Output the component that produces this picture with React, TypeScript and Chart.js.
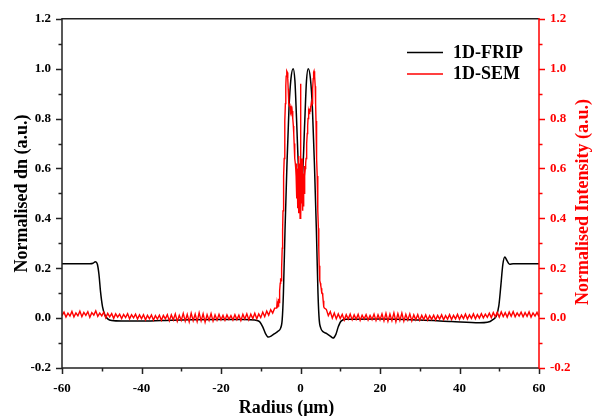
import React, { useEffect, useRef } from "react";
import { Chart, registerables } from "chart.js";
Chart.register(...registerables);

// ---- Data ----
const seriesLabels = ["1D-FRIP", "1D-SEM"];
const seriesColors = ["#000000", "#ff0000"];

const xMin = -60, xMax = 60, xStep = 20;
const yMin = -0.2, yMax = 1.2, yStep = 0.2;

const xTitle = "Radius (\u03bcm)";
const yLeftTitle = "Normalised dn (a.u.)";
const yRightTitle = "Normalised Intensity (a.u.)";

// 1D-FRIP (black), smooth profile
const fripX = [-60, -56, -53, -52.2, -51.6, -51.1, -50.7, -50.3, -49.8, -49.2, -48.5, -47.5, -45, -40, -35, -28, -20, -14, -11.5, -10.3, -9.5, -8.8, -8.1, -7.4, -6.5, -5.6, -5.0, -4.6, -4.3, -3.9, -3.4, -2.9, -2.4, -1.85, -1.4, -1.0, -0.5, 0.05, 0.6, 1.1, 1.5, 1.95, 2.5, 3.0, 3.5, 4.0, 4.4, 4.7, 5.1, 5.7, 6.6, 7.5, 8.2, 8.9, 9.5, 10.2, 11.5, 20, 30, 38, 45, 47, 48.4, 49.3, 49.9, 50.4, 50.9, 51.4, 51.9, 52.6, 53.5, 60];
const fripY = [0.218, 0.218, 0.218, 0.220, 0.226, 0.216, 0.175, 0.105, 0.045, 0.012, -0.003, -0.010, -0.012, -0.012, -0.010, -0.007, -0.006, -0.006, -0.008, -0.014, -0.035, -0.062, -0.076, -0.072, -0.062, -0.052, -0.040, -0.005, 0.10, 0.35, 0.62, 0.84, 0.96, 1.0, 0.95, 0.80, 0.60, 0.52, 0.60, 0.80, 0.95, 1.0, 0.96, 0.84, 0.62, 0.35, 0.10, -0.005, -0.040, -0.055, -0.062, -0.072, -0.080, -0.065, -0.035, -0.012, -0.005, -0.004, -0.008, -0.014, -0.019, -0.017, -0.006, 0.010, 0.05, 0.13, 0.215, 0.245, 0.232, 0.216, 0.218, 0.218];

// 1D-SEM (red), sampled: left part -60 .. -6.5 (step 0.5)
const semLeftStart = -60;
const semOuterStep = 0.5;
const semLeft = [
  0.010, 0.024, 0.004, 0.020, 0.008, 0.027, 0.005, 0.021, 0.009, 0.028, // -60
  0.006, 0.023, 0.011, 0.026, 0.003, 0.022, 0.012, 0.029, 0.007, 0.020, // -55
  0.009, 0.024, 0.001, 0.019, 0.005, 0.018, -0.001, 0.017, 0.004, 0.016, // -50
  -0.002, 0.015, 0.002, 0.018, -0.003, 0.014, 0.001, 0.016, -0.004, 0.013, // -45
  -0.002, 0.014, -0.007, 0.011, -0.003, 0.013, -0.008, 0.010, -0.004, 0.012, // -40
  -0.009, 0.011, -0.003, 0.014, -0.011, 0.013, -0.007, 0.017, -0.013, 0.011, // -35
  -0.009, 0.019, -0.012, 0.015, -0.015, 0.020, -0.010, 0.016, -0.014, 0.021, // -30
  -0.011, 0.017, -0.016, 0.014, -0.009, 0.018, -0.012, 0.013, -0.008, 0.015, // -25
  -0.007, 0.011, -0.009, 0.013, -0.005, 0.010, -0.008, 0.014, -0.006, 0.012, // -20
  -0.010, 0.015, -0.004, 0.017, -0.007, 0.016, -0.002, 0.019, -0.003, 0.017, // -15
  0.002, 0.024, 0.006, 0.028, 0.012, 0.034, 0.020, 0.040 // -10 .. -6.5
];
// centre part -6 .. 6 (step 0.1)
const semCenterStart = -6;
const semCenterStep = 0.1;
const semCenter = [
  0.040, 0.060, 0.042, 0.068, 0.048, 0.078, 0.062, 0.092, 0.110, 0.140, // -6.0
  0.160, 0.150, 0.175, 0.200, 0.280, 0.350, 0.430, 0.500, 0.570, 0.640, // -5.0
  0.720, 0.790, 0.860, 0.930, 0.970, 0.985, 0.990, 0.985, 0.960, 0.920, // -4.0
  0.880, 0.860, 0.850, 0.860, 0.840, 0.850, 0.830, 0.840, 0.820, 0.830, // -3.0
  0.810, 0.800, 0.770, 0.740, 0.700, 0.660, 0.640, 0.620, 0.600, 0.570, // -2.0
  0.620, 0.480, 0.580, 0.440, 0.600, 0.420, 0.650, 0.470, 0.620, 0.400, // -1.0
  0.940, 0.410, 0.630, 0.460, 0.640, 0.430, 0.610, 0.450, 0.580, 0.500, // 0.0
  0.610, 0.570, 0.600, 0.620, 0.640, 0.660, 0.700, 0.740, 0.770, 0.800, // 1.0
  0.810, 0.830, 0.820, 0.840, 0.830, 0.850, 0.840, 0.860, 0.850, 0.860, // 2.0
  0.880, 0.920, 0.960, 0.985, 0.990, 0.985, 0.970, 0.930, 0.860, 0.790, // 3.0
  0.720, 0.640, 0.570, 0.500, 0.430, 0.360, 0.280, 0.210, 0.170, 0.150, // 4.0
  0.140, 0.130, 0.120, 0.110, 0.100, 0.100, 0.090, 0.070, 0.050, 0.045, // 5.0
  0.040 // 6.0
];
// right part 6.5 .. 60 (step 0.5)
const semRightStart = 6.5;
const semRight = [
  0.035, 0.010, 0.026, 0.000, 0.020, -0.003, 0.017, -0.002, // 6.5 .. 10
  0.015, -0.008, 0.014, -0.004, 0.016, -0.007, 0.013, -0.005, 0.015, -0.009, // 10.5
  0.012, -0.004, 0.014, -0.008, 0.011, -0.006, 0.016, -0.010, 0.013, -0.007, // 15.5
  0.017, -0.011, 0.019, -0.013, 0.016, -0.010, 0.021, -0.014, 0.018, -0.009, // 20.5
  0.020, -0.012, 0.015, -0.008, 0.017, -0.011, 0.013, -0.007, 0.014, -0.009, // 25.5
  0.011, -0.006, 0.013, -0.008, 0.010, -0.005, 0.012, -0.007, 0.011, -0.004, // 30.5
  0.013, -0.007, 0.010, -0.004, 0.014, -0.006, 0.011, -0.003, 0.015, -0.005, // 35.5
  0.012, -0.002, 0.016, -0.004, 0.013, -0.001, 0.017, -0.003, 0.014, 0.000, // 40.5
  0.018, 0.001, 0.016, 0.003, 0.020, 0.002, 0.022, 0.005, 0.023, 0.004, // 45.5
  0.025, 0.006, 0.022, 0.004, 0.024, 0.007, 0.026, 0.005, 0.021, 0.008, // 50.5
  0.024, 0.005, 0.022, 0.007, 0.025, 0.004, 0.021, 0.008, 0.023, 0.006 // 55.5
];

// ---- Styling ----
const FONT = "'Liberation Serif', 'Times New Roman', serif";
const AXIS_COLOR = "#222222";

function segment(vals: number[], start: number, step: number) {
  return vals.map((y, i) => ({ x: Number((start + i * step).toFixed(3)), y }));
}

function fmt(v: any) {
  const s = Number(v).toFixed(1);
  return s === "-0.0" ? "0.0" : s;
}

const decorPlugin = {
  id: "decor",
  afterDraw(chart: any) {
    const ctx = chart.ctx as CanvasRenderingContext2D;
    const { left, right, top, bottom } = chart.chartArea;
    const xs = chart.scales.x;
    const yl = chart.scales.y;
    const yr = chart.scales.y2;
    ctx.save();
    ctx.lineWidth = 1.5;
    ctx.lineCap = "butt";

    // black frame (left, top, bottom)
    ctx.strokeStyle = AXIS_COLOR;
    ctx.beginPath();
    ctx.moveTo(right, top);
    ctx.lineTo(left, top);
    ctx.lineTo(left, bottom);
    ctx.lineTo(right, bottom);
    ctx.stroke();

    const major = 6, minor = 3.5;
    const tickVals = (scale: any) => scale.ticks.map((t: any) => t.value);
    const mids = (vals: number[]) => {
      const out: number[] = [];
      for (let i = 0; i < vals.length - 1; i++) out.push((vals[i] + vals[i + 1]) / 2);
      return out;
    };

    // left ticks
    const yv = tickVals(yl);
    ctx.beginPath();
    yv.forEach((v: number) => {
      const p = Math.round(yl.getPixelForValue(v)) + 0.5;
      ctx.moveTo(left, p); ctx.lineTo(left - major, p);
    });
    mids(yv).forEach((v) => {
      const p = Math.round(yl.getPixelForValue(v)) + 0.5;
      ctx.moveTo(left, p); ctx.lineTo(left - minor, p);
    });
    // bottom ticks
    const xv = tickVals(xs);
    xv.forEach((v: number) => {
      const p = Math.round(xs.getPixelForValue(v)) + 0.5;
      ctx.moveTo(p, bottom); ctx.lineTo(p, bottom + major);
    });
    mids(xv).forEach((v) => {
      const p = Math.round(xs.getPixelForValue(v)) + 0.5;
      ctx.moveTo(p, bottom); ctx.lineTo(p, bottom + minor);
    });
    ctx.stroke();

    // right red axis
    ctx.strokeStyle = seriesColors[1];
    ctx.beginPath();
    ctx.moveTo(right, top - 0.75);
    ctx.lineTo(right, bottom + 0.75);
    const rv = tickVals(yr);
    rv.forEach((v: number) => {
      const p = Math.round(yr.getPixelForValue(v)) + 0.5;
      ctx.moveTo(right, p); ctx.lineTo(right + major, p);
    });
    mids(rv).forEach((v) => {
      const p = Math.round(yr.getPixelForValue(v)) + 0.5;
      ctx.moveTo(right, p); ctx.lineTo(right + minor, p);
    });
    ctx.stroke();

    // titles
    ctx.font = `bold 18px ${FONT}`;
    ctx.textAlign = "center";
    ctx.textBaseline = "middle";
    ctx.fillStyle = "#000";
    ctx.save();
    ctx.translate(22, (top + bottom) / 2);
    ctx.rotate(-Math.PI / 2);
    ctx.fillText(yLeftTitle, 0, 0);
    ctx.restore();

    ctx.fillStyle = seriesColors[1];
    ctx.save();
    ctx.translate(583, 202);
    ctx.rotate(-Math.PI / 2);
    ctx.fillText(yRightTitle, 0, 0);
    ctx.restore();

    ctx.fillStyle = "#000";
    ctx.textBaseline = "alphabetic";
    ctx.fillText(xTitle, 286.5, 412.5);

    // legend
    ctx.textAlign = "left";
    ctx.textBaseline = "middle";
    const lx0 = 407, lx1 = 443, tx = 453;
    const rows = [52, 73.5];
    chart.data.datasets
      .slice()
      .sort((a: any, b: any) => a.legendIndex - b.legendIndex)
      .forEach((ds: any, i: number) => {
        const y = rows[i];
        ctx.strokeStyle = ds.borderColor;
        ctx.lineWidth = 1.5;
        ctx.beginPath();
        ctx.moveTo(lx0, y + 0.5);
        ctx.lineTo(lx1, y + 0.5);
        ctx.stroke();
        ctx.fillStyle = "#000";
        ctx.fillText(ds.label, tx, y + 1);
      });

    ctx.restore();
  },
};

export default function App() {
  const ref = useRef<HTMLCanvasElement | null>(null);

  useEffect(() => {
    document.body.style.margin = "0";
    const canvas = ref.current;
    if (!canvas) return;

    const fripData = fripX.map((x, i) => ({ x, y: fripY[i] }));
    const semData = [
      ...segment(semLeft, semLeftStart, semOuterStep),
      ...segment(semCenter, semCenterStart, semCenterStep),
      ...segment(semRight, semRightStart, semOuterStep),
    ];

    const tickFont = { family: FONT, size: 13, weight: "bold" };

    const chart = new Chart(canvas, {
      type: "line",
      data: {
        datasets: [
          {
            label: seriesLabels[1],
            data: semData,
            borderColor: seriesColors[1],
            borderWidth: 1.4,
            pointRadius: 0,
            tension: 0,
            yAxisID: "y2",
            order: 0,
            legendIndex: 1,
          } as any,
          {
            label: seriesLabels[0],
            data: fripData,
            borderColor: seriesColors[0],
            borderWidth: 1.5,
            pointRadius: 0,
            cubicInterpolationMode: "monotone",
            yAxisID: "y",
            order: 1,
            legendIndex: 0,
          } as any,
        ],
      },
      options: {
        animation: false,
        responsive: false,
        devicePixelRatio: 1,
        parsing: false,
        normalized: true,
        layout: { padding: { top: 18, left: 0, right: 0, bottom: 0 } },
        plugins: { legend: { display: false }, tooltip: { enabled: false } },
        events: [],
        scales: {
          x: {
            type: "linear",
            min: xMin,
            max: xMax,
            grid: { display: false, drawTicks: false },
            border: { display: false },
            ticks: {
              stepSize: xStep,
              padding: 13,
              color: "#000",
              font: tickFont,
              maxRotation: 0,
              callback: (v: any) => String(v),
            },
            afterFit: (s: any) => { s.height = 48; },
          },
          y: {
            type: "linear",
            position: "left",
            min: yMin,
            max: yMax,
            grid: { display: false, drawTicks: false },
            border: { display: false },
            ticks: {
              stepSize: yStep,
              padding: 11,
              color: "#000",
              font: tickFont,
              callback: fmt,
            },
            afterFit: (s: any) => { s.width = 62; },
          },
          y2: {
            type: "linear",
            position: "right",
            min: yMin,
            max: yMax,
            grid: { display: false, drawTicks: false },
            border: { display: false },
            ticks: {
              stepSize: yStep,
              padding: 11,
              color: seriesColors[1],
              font: tickFont,
              callback: fmt,
            },
            afterFit: (s: any) => { s.width = 54; },
          },
        },
      } as any,
      plugins: [decorPlugin],
    });

    return () => chart.destroy();
  }, []);

  return (
    <div style={{ width: 593, height: 416, background: "#fff" }}>
      <canvas ref={ref} width={593} height={416} style={{ display: "block", width: 593, height: 416 }} />
    </div>
  );
}
